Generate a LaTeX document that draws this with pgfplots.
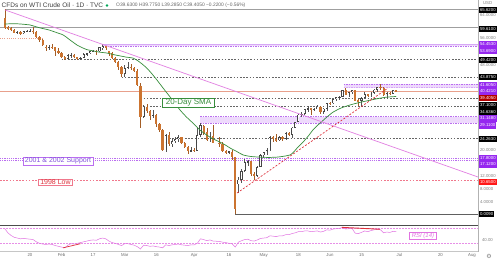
\documentclass[border=0pt]{standalone}
\usepackage{pgfplots}
\pgfplotsset{compat=1.18}
\usepackage{pgfplotstable}
\usepackage{fontspec}
\setmainfont{Liberation Sans}
\newfontfamily\dejavu{DejaVu Sans}

\definecolor{cdown}{RGB}{204,116,48}
\definecolor{cup}{RGB}{70,70,70}
\definecolor{wick}{RGB}{85,85,85}
\definecolor{sma}{RGB}{56,142,60}
\definecolor{trend}{RGB}{226,128,226}
\definecolor{bandfill}{RGB}{238,218,252}
\definecolor{bandline}{RGB}{186,110,240}
\definecolor{pline}{RGB}{232,160,140}
\definecolor{redl}{RGB}{222,50,60}
\definecolor{lowl}{RGB}{240,120,140}
\definecolor{lpurple}{RGB}{150,40,240}
\definecolor{rsi}{RGB}{225,115,225}
\definecolor{sup}{RGB}{130,80,220}

\pgfplotstableread{
d o h l c
-8 62.80 65.62 59.15 59.61
-7 59.70 60.30 58.90 59.56
-6 59.60 59.90 58.70 59.04
-5 59.00 59.30 57.90 58.08
-3 58.30 58.50 57.40 57.81
1 58.60 59.70 57.70 58.38
2 58.30 58.50 56.40 56.74
3 56.70 56.90 55.00 55.59
4 55.60 56.00 53.90 54.19
5 53.50 54.00 52.10 53.14
7 53.50 54.30 52.90 53.33
8 53.30 53.40 50.60 52.14
9 52.10 53.00 51.30 51.56
10 51.50 51.90 49.90 50.11
11 50.10 50.60 49.30 49.61
14 50.90 51.10 49.90 50.32
15 50.30 50.40 49.30 49.57
21 52.10 52.60 51.00 52.05
24 53.80 53.90 52.60 53.38
25 52.10 52.30 50.50 51.43
26 51.40 51.70 49.70 49.90
27 49.90 50.30 48.20 48.73
28 48.70 48.90 46.10 47.09
29 47.10 47.30 43.90 44.76
32 47.20 47.90 46.00 46.78
33 46.80 47.20 45.30 45.90
34 45.90 46.30 41.00 41.28
35 41.00 41.90 27.50 31.13
37 34.40 35.30 32.40 32.98
38 33.00 33.20 30.00 31.50
40 31.70 31.90 28.00 28.70
41 28.70 29.20 26.30 26.95
42 27.00 27.10 20.10 20.37
44 25.20 26.10 21.90 22.43
48 24.50 24.80 22.30 22.60
49 22.60 23.00 21.20 21.51
50 21.50 21.70 19.30 20.09
52 20.50 21.20 19.90 20.31
55 28.30 28.40 25.30 26.08
56 26.10 27.50 23.30 23.63
58 25.10 28.40 22.60 22.76
60 22.80 24.70 21.30 22.41
61 22.40 23.00 19.90 20.11
62 20.10 20.60 19.20 19.87
64 19.90 20.40 17.30 18.27
65 18.30 18.40 0.009 1.50
70 16.90 17.00 12.30 12.80
71 12.80 13.40 10.90 12.30
77 24.60 25.00 23.00 24.00
78 24.00 25.60 23.00 23.60
80 24.70 25.10 23.40 24.10
82 25.80 26.20 24.90 25.30
89 33.90 34.00 31.60 33.30
92 34.40 34.60 31.90 32.80
95 35.50 35.70 34.80 35.40
100 39.60 40.42 38.00 38.20
103 39.60 39.70 36.10 36.30
104 36.30 36.90 34.64 36.20
107 38.40 38.50 37.30 38.00
111 40.70 41.60 39.80 40.40
112 40.40 40.60 37.80 38.00
114 38.70 39.20 38.00 38.50
116 39.63 39.775 39.285 39.405
}\downtab

\pgfplotstableread{
d o h l c
-4 58.10 58.70 57.60 58.23
-2 57.80 58.70 57.60 58.52
-1 58.50 59.00 58.10 58.54
0 58.50 59.10 58.30 58.60
6 53.10 54.00 52.60 53.48
12 49.60 51.20 49.40 50.75
13 50.80 51.40 50.00 50.95
16 49.60 50.40 49.40 49.94
17 50.00 51.40 49.90 51.17
18 51.20 51.60 50.60 51.42
19 51.40 52.20 51.10 52.05
20 52.00 52.40 51.70 52.10
22 52.10 53.50 51.90 53.29
23 53.30 54.45 52.50 53.78
30 44.80 47.60 44.00 46.75
31 46.80 48.70 46.30 47.18
36 31.10 34.90 30.70 34.36
39 31.50 33.30 30.70 31.73
43 20.40 25.60 20.00 25.22
45 22.40 24.30 21.30 23.36
46 23.40 24.70 22.60 24.01
47 24.00 25.20 22.90 24.49
51 20.10 21.30 19.90 20.48
53 20.30 27.40 20.10 25.32
54 25.30 29.11 24.60 28.34
57 23.60 26.40 23.10 25.09
63 19.90 20.30 19.20 19.90
66 9.50 12.00 6.60 11.00
67 11.00 14.50 10.00 13.80
68 13.80 17.50 13.50 16.50
69 16.50 17.30 15.30 16.90
72 12.30 15.50 12.00 15.10
73 15.10 19.30 14.90 18.80
74 18.80 20.00 18.00 19.80
75 19.80 21.00 18.80 20.40
76 20.40 25.00 20.20 24.60
79 23.60 25.00 23.40 24.70
81 24.10 26.20 23.70 25.80
83 25.30 27.80 24.30 27.60
84 27.60 29.60 27.40 29.40
85 29.40 32.00 29.30 31.80
86 31.80 32.60 31.20 32.00
87 32.00 33.60 31.80 33.50
88 33.50 34.70 32.80 33.90
90 33.30 33.90 33.00 33.60
91 33.60 35.00 33.50 34.40
93 32.80 34.00 31.90 33.70
94 33.70 35.60 33.00 35.50
96 35.40 36.90 35.20 36.80
97 36.80 37.60 36.20 37.30
98 37.30 37.90 36.60 37.40
99 37.40 39.70 37.30 39.60
101 38.20 39.00 37.60 38.90
102 38.90 39.80 38.30 39.60
105 36.20 37.30 34.40 37.10
106 37.10 38.90 36.90 38.40
108 38.00 38.90 37.30 38.80
109 38.80 39.90 38.50 39.80
110 39.80 40.80 38.90 40.70
113 38.00 38.90 36.90 38.70
115 38.50 39.80 38.30 39.63
}\uptab

\pgfplotsset{
  wickp/.style={only marks, mark=*, mark size=0pt, mark options={draw=none,fill=none},
     error bars/.cd, y dir=both, y explicit, error mark=none,
     error bar style={line width=0.45pt, draw=#1}},
  bodyp/.style 2 args={only marks, mark=*, mark size=0pt, mark options={draw=none,fill=none},
     error bars/.cd, y dir=both, y explicit, error mark=none,
     error bar style={line width=#2, draw=#1}},
  lev/.style={line width=0.5pt, forget plot},
}
\tikzset{
  pl/.style={anchor=west, inner xsep=0.9pt, inner ysep=0pt, minimum height=6.2pt, font=\fontsize{4.3}{5}\selectfont},
}

\begin{document}
\begin{tikzpicture}
\useasboundingbox (0,0) rectangle (498pt,-260pt);
\fill[white] (0,0) rectangle (498pt,-260pt);

% ---------------- main pane ----------------
\begin{axis}[at={(0pt,0pt)}, anchor=north west, width=478pt, height=225pt, scale only axis,
  xmin=-9.5, xmax=141.9, ymin=-3.52, ymax=68.48, hide axis, clip=true]
% bands
\addplot[fill=bandfill, draw=none, forget plot] coordinates {(23,53.69) (142,53.69) (142,54.453) (23,54.453)};
\addplot[fill=bandfill, draw=none, forget plot] coordinates {(99.3,40.421) (142,40.421) (142,41.605) (99.3,41.605)};
\addplot[fill=bandfill, draw=none, forget plot] coordinates {(54,29.11) (142,29.11) (142,31.148) (54,31.148)};
\addplot[lev, bandline, dash pattern=on 1.5pt off 1pt] coordinates {(23,53.69) (142,53.69)};
\addplot[lev, bandline!60, line width=0.4pt] coordinates {(23,54.453) (142,54.453)};
\addplot[lev, bandline, dash pattern=on 1.5pt off 1pt] coordinates {(99.3,41.605) (142,41.605)};
\addplot[lev, bandline!60, dash pattern=on 1.5pt off 1pt] coordinates {(99.3,40.421) (142,40.421)};
\addplot[lev, bandline, dash pattern=on 1.5pt off 1pt] coordinates {(54,31.148) (142,31.148)};
\addplot[lev, bandline, dash pattern=on 1.5pt off 1pt] coordinates {(54,29.11) (142,29.11)};
% horizontal levels
\addplot[lev, gray!75] coordinates {(-8,65.62) (142,65.62)};
\addplot[lev, gray!75] coordinates {(-9.5,59.61) (142,59.61)};
\addplot[lev, pline, dash pattern=on 1pt off 1.2pt] coordinates {(-9.5,56.4) (4,56.4)};
\addplot[lev, gray!80!black, dash pattern=on 1.6pt off 1.6pt] coordinates {(10,49.42) (142,49.42)};
\addplot[lev, gray!80!black, dash pattern=on 1.6pt off 1.6pt] coordinates {(29,43.875) (142,43.875)};
\addplot[lev, gray!80!black, dash pattern=on 1.6pt off 1.6pt] coordinates {(36,37.1) (142,37.1)};
\addplot[lev, gray!80!black, dash pattern=on 1.6pt off 1.6pt] coordinates {(36,34.636) (142,34.636)};
\addplot[lev, gray!80!black, dash pattern=on 1.6pt off 1.6pt] coordinates {(43,24.263) (142,24.263)};
\addplot[lev, bandline, line width=0.7pt, dash pattern=on 1.1pt off 1.1pt] coordinates {(-9.5,17.8) (142,17.8)};
\addplot[lev, bandline, line width=0.7pt, dash pattern=on 1.1pt off 1.1pt] coordinates {(-9.5,17.12) (142,17.12)};
\addplot[lev, lowl, dash pattern=on 1.6pt off 1.6pt] coordinates {(-9.5,10.65) (142,10.65)};
\addplot[lev, gray!75!black] coordinates {(65,0.009) (142,0.009)};
\addplot[lev, pline, line width=0.6pt] coordinates {(-9.5,39.405) (142,39.405)};

% candles: wicks
\addplot[wickp=wick] table[x=d, y expr={(\thisrow{h}+\thisrow{l})/2}, y error expr={(\thisrow{h}-\thisrow{l})/2}] {\uptab};
\addplot[wickp=cdown!80!black] table[x=d, y expr={(\thisrow{h}+\thisrow{l})/2}, y error expr={(\thisrow{h}-\thisrow{l})/2}] {\downtab};
% bodies
\addplot[bodyp={cup}{2.2pt}] table[x=d, y expr={(\thisrow{o}+\thisrow{c})/2}, y error expr={max(abs(\thisrow{o}-\thisrow{c})/2,0.14)}] {\uptab};
\addplot[bodyp={white}{0.95pt}] table[x=d, y expr={(\thisrow{o}+\thisrow{c})/2}, y error expr={max(abs(\thisrow{o}-\thisrow{c})/2-0.22,0)}] {\uptab};
\addplot[bodyp={cdown}{2.2pt}] table[x=d, y expr={(\thisrow{o}+\thisrow{c})/2}, y error expr={max(abs(\thisrow{o}-\thisrow{c})/2,0.14)}] {\downtab};

% 20-day SMA
\addplot[sma, line width=0.7pt, smooth, tension=0.4] coordinates {
(-8,60.8) (-5,60.9) (-3,60.8) (0,60.5) (1,60.2) (3,59.6) (6,58.9) (8,58.2) (10.5,57.3) (12,56.2)
(13.6,55) (15,54) (16.8,53.1) (18,52.6) (20,52.2) (22,51.8) (24.4,51.5) (26.5,51.0) (28.5,50.6)
(30.5,50.2) (32.6,49.9) (34.2,49) (35.5,48) (37,46.7) (38.5,45) (40.2,42.9) (42,40.5) (43.4,38.7)
(45.5,36) (47.5,33.3) (49.5,31.1) (51.6,29.1) (53.8,26.9) (55.5,25.6) (57,24.6) (58.5,23.8)
(60.2,23) (62,22) (63.4,21.1) (65.5,20) (67.5,18.9) (70,18.4) (72.9,18.2) (75.5,18.1) (78.2,18.2)
(80.5,18.5) (82.4,18.9) (83.5,19.8) (84.6,21.1) (86,22.5) (87.1,23.7) (88.5,25.4) (89.6,26.9)
(91,28.3) (91.9,29.1) (94,31) (96,32.6) (98.5,33.9) (101.4,34.9) (104,35.6) (106.7,36.2)
(110,36.9) (113,37.4) (116,37.6)};
% trend lines
\addplot[trend, line width=0.7pt] coordinates {(-7.9,65.3) (141.9,11.84)};
\addplot[redl, line width=0.7pt, dash pattern=on 2pt off 1.6pt] coordinates {(65.6,6.72) (113.4,40.3)};
\end{axis}

% ---------------- RSI pane ----------------
\begin{axis}[at={(0pt,-225pt)}, anchor=north west, width=478pt, height=26pt, scale only axis,
  xmin=-9.5, xmax=141.9, ymin=9.5, ymax=78.8, axis line style={draw=none}, ytick=\empty,
  xtick={0,10,20,30,40,52,63,74,85,95,105,117,130,140},
  xticklabels={20,Feb,17,Mar,16,Apr,16,May,18,Jun,15,Jul,20,Aug},
  xtick pos=bottom, tick align=outside, major tick length=1.3pt,
  tick style={draw=gray!70, line width=0.3pt},
  xticklabel style={font=\fontsize{4.3}{5}\selectfont, text=gray!85!black, inner sep=0.6pt},
  clip=true]
\addplot[lev, rsi!80, dash pattern=on 1.5pt off 1.5pt, line width=0.4pt] coordinates {(-9.5,70) (142,70)};
\addplot[lev, rsi!80, dash pattern=on 1.5pt off 1.5pt, line width=0.4pt] coordinates {(-9.5,30) (142,30)};
\addplot[rsi, line width=0.5pt] coordinates {
(-8,69) (-7,58) (-6,51) (-5,46) (-4,44) (-3,42) (-2,43) (-1,42) (0,41) (1,40) (2,34) (3,30) (4,28)
(5,27) (6,28) (7,27) (8,24) (9,22) (10,20) (11,18) (12,25) (13,29) (14,28) (15,30) (16,32) (17,34)
(18,36) (19,38) (20,39) (21,38) (22,42) (23,44) (24,42) (25,36) (26,32) (27,30) (28,27) (29,24)
(30,29) (31,29) (32,27) (33,25) (34,21) (35,15) (36,25) (37,24) (38,22) (39,23) (40,21) (41,20)
(42,18) (43,26) (44,24) (45,26) (46,27) (47,28) (48,26) (49,25) (50,24) (51,26) (52,26) (53,30)
(54,42) (55,40) (56,37) (57,39) (58,36) (60,35) (61,33) (62,32) (63,30) (64,29) (65,20) (66,33)
(67,37) (68,40) (69,41) (70,37) (71,36) (72,39) (73,43) (74,44) (75,45) (76,50) (77,49) (78,48)
(79,50) (80,50) (81,53) (82,53) (83,56) (84,58) (85,61) (86,61) (87,63) (88,63) (89,61) (90,62)
(91,63) (92,60) (93,62) (94,66) (95,65) (96,68) (97,69) (98,70) (99,72) (100,68) (101,69) (102,70)
(103,57) (104,56) (105,59) (106,63) (107,61) (108,64) (109,66) (110,68) (111,66) (112,58) (113,60)
(114,59) (115,62) (116,61)};
\addplot[redl, line width=0.7pt] coordinates {(10.5,18) (16,29)};
\addplot[redl, line width=0.9pt] coordinates {(98.8,72.5) (110.9,67.5)};
\end{axis}

% ---------------- frame lines ----------------
\draw[gray!60!black, line width=0.6pt] (0,-225pt) -- (478pt,-225pt);
\draw[gray!45, line width=0.4pt] (0,-251.5pt) -- (478pt,-251.5pt);
\draw[gray!60, line width=0.5pt] (478pt,0) -- (478pt,-252pt);

% ---------------- title ----------------
\node[anchor=west, inner sep=0pt, font=\fontsize{6.5}{7.5}\selectfont, text=black!75] at (1.5pt,-5.5pt) {CFDs on WTI Crude Oil · 1D · TVC};
\fill[teal!70!green] (107pt,-5.5pt) circle (1.3pt);
\node[anchor=west, inner sep=0pt, font=\fontsize{4.9}{5.5}\selectfont, text=black!60] at (116pt,-5.5pt) {O39.6300 H39.7750 L39.2850 C39.4050 −0.2200 (−0.56\%)};

% ---------------- annotations ----------------
\node[draw=sma, fill=white, text=sma, line width=0.5pt, font=\fontsize{8}{9}\selectfont, inner xsep=3.5pt, inner ysep=0.8pt] at (188.5pt,-102.5pt) {20-Day SMA};
\node[draw=bandline, fill=white, text=sup, line width=0.5pt, font=\fontsize{7}{8}\selectfont, inner xsep=2pt, inner ysep=0.6pt] at (58pt,-161pt) {2001 \& 2002 Support};
\node[draw=lowl, fill=white, text=redl, line width=0.5pt, font=\fontsize{7}{8}\selectfont, inner xsep=2pt, inner ysep=0.6pt] at (55.5pt,-182pt) {1998 Low};
\node[draw=rsi, fill=white, text=rsi, line width=0.5pt, font=\fontsize{6}{7}\selectfont\itshape, inner xsep=2.5pt, inner ysep=0.8pt] at (423pt,-236pt) {RSI (14)};

% ---------------- price scale labels ----------------
\node[pl, text=gray] at (482pt,-3pt) {USD};
\node[pl, fill=black, text=white] at (479pt,-10pt) {65.6200};
\node[pl, text=gray] at (479pt,-14.8pt) {64.0000};
\node[pl, fill=black, text=white] at (479pt,-29pt) {59.6100};
\node[pl, text=gray] at (479pt,-38.5pt) {56.0000};
\node[pl, fill=lpurple, text=white] at (479pt,-44.5pt) {54.4530};
\node[pl, fill=lpurple, text=white] at (479pt,-51pt) {53.6900};
\node[pl, fill=black, text=white] at (479pt,-60pt) {49.4200};
\node[pl, text=gray] at (479pt,-65pt) {48.0000};
\node[pl, fill=black, text=white] at (479pt,-77pt) {43.8750};
\node[pl, fill=lpurple, text=white] at (479pt,-85pt) {41.6050};
\node[pl, fill=lpurple, text=white] at (479pt,-91.5pt) {40.4210};
\node[pl, fill=red!70!black, text=white] at (479pt,-98pt) {39.4050};
\node[pl, fill=black, text=white] at (479pt,-105.5pt) {37.1000};
\node[pl, fill=black, text=white] at (479pt,-112pt) {34.6360};
\node[pl, fill=lpurple, text=white] at (479pt,-118.5pt) {31.1480};
\node[pl, fill=lpurple, text=white] at (479pt,-125.5pt) {29.1100};
\node[pl, fill=black, text=white] at (479pt,-139pt) {24.2630};
\node[pl, text=gray] at (479pt,-150pt) {20.0000};
\node[pl, fill=lpurple, text=white] at (479pt,-158pt) {17.8000};
\node[pl, fill=lpurple, text=white] at (479pt,-164.5pt) {17.1200};
\node[pl, text=gray] at (479pt,-176pt) {12.0000};
\node[pl, fill=red!90, text=white] at (479pt,-182pt) {10.6500};
\node[pl, text=gray] at (479pt,-189pt) {8.0000};
\node[pl, text=gray] at (479pt,-202pt) {4.0000};
\node[pl, fill=black, text=white] at (479pt,-214pt) {0.0090};
\node[pl, text=gray] at (481pt,-240pt) {40.00};
\node[text=gray, inner sep=0pt, font=\dejavu\fontsize{6}{7}\selectfont] at (489pt,-256pt) {⚙};
\end{tikzpicture}
\end{document}
